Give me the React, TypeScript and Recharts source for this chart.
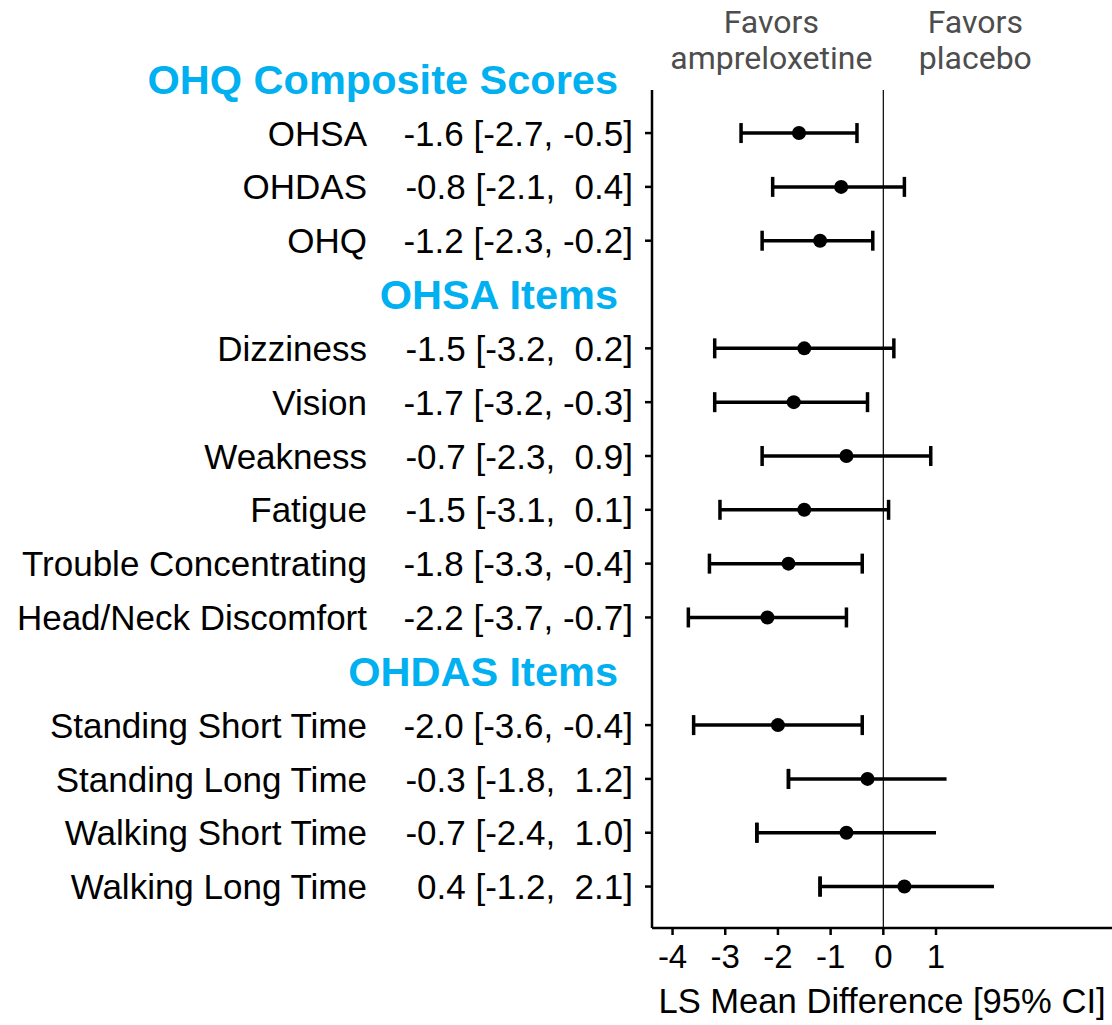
import { ComposedChart, Scatter, ErrorBar, XAxis, YAxis, ReferenceLine } from "recharts";

const labels = [
    "OHSA", "OHDAS", "OHQ",
    "Dizziness", "Vision", "Weakness", "Fatigue", "Trouble Concentrating", "Head/Neck Discomfort",
    "Standing Short Time", "Standing Long Time", "Walking Short Time", "Walking Long Time",
];
const estimates = [-1.6, -0.8, -1.2, -1.5, -1.7, -0.7, -1.5, -1.8, -2.2, -2.0, -0.3, -0.7, 0.4];
const lower = [-2.7, -2.1, -2.3, -3.2, -3.2, -2.3, -3.1, -3.3, -3.7, -3.6, -1.8, -2.4, -1.2];
const upper = [-0.5, 0.4, -0.2, 0.2, -0.3, 0.9, 0.1, -0.4, -0.7, -0.4, 1.2, 1.0, 2.1];
// row index of each item in the plot (headers take rows 0, 4 and 11)
const rowOf = [1, 2, 3, 5, 6, 7, 8, 9, 10, 12, 13, 14, 15];
const headers = [
    { row: 0, text: "OHQ Composite Scores" },
    { row: 4, text: "OHSA Items" },
    { row: 11, text: "OHDAS Items" },
];
const xTicks = [-4, -3, -2, -1, 0, 1];
// upper bounds at or past this value were drawn without an end cap
const CAP_LIMIT = 1;

const W = 1112;
const H = 1025;
const PLOT_LEFT = 652;
const BLUE = "#00B0F0";
const FONT = "'Liberation Sans', Arial, sans-serif";

const fmt = (v: number) => (v < 0 ? v.toFixed(1) : " " + v.toFixed(1));

const rows = labels.map((name, i) => {
    const capped = upper[i] < CAP_LIMIT;
    const lo = estimates[i] - lower[i];
    const hi = upper[i] - estimates[i];
    return {
        name,
        x: estimates[i],
        y: rowOf[i],
        ci: `${estimates[i].toFixed(1)} [${lower[i].toFixed(1)}, ${fmt(upper[i])}]`,
        // capped rows: full interval with caps; open rows: only the lower cap here
        errCap: capped ? [lo, hi] : [lo, -lo],
        // open rows: the whole interval without caps
        errOpen: capped ? [0, 0] : [lo, hi],
    };
});
const yTicks = Array.from({ length: 16 }, (_, i) => i);

function RowTick(props: any) {
    const { y, payload } = props;
    const h = headers.find((d) => d.row === payload.value);
    if (h) {
        return (
            <text x={PLOT_LEFT - 34} y={y} dy="0.36em" textAnchor="end" fill={BLUE}
                fontSize={41.5} fontWeight="bold" fontFamily={FONT}>
                {h.text}
            </text>
        );
    }
    const r = rows.find((d) => d.y === payload.value);
    if (!r) return null;
    return (
        <g>
            <text x={PLOT_LEFT - 285} y={y} dy="0.36em" textAnchor="end" fill="#000" fontSize={35} fontFamily={FONT}>
                {r.name}
            </text>
            <text x={PLOT_LEFT - 19} y={y} dy="0.36em" textAnchor="end" fill="#000" fontSize={35}
                fontFamily={FONT} style={{ whiteSpace: "pre" }}>
                {r.ci}
            </text>
            <line x1={PLOT_LEFT - 7} x2={PLOT_LEFT} y1={y} y2={y} stroke="#000" strokeWidth={2.5} />
        </g>
    );
}

function FavorsLabel(props: any) {
    const { viewBox } = props;
    const x0 = viewBox.x;
    const top = viewBox.y;
    const style = { fontFamily: "Roboto", fontSize: 32, fill: "#4d4d4d" };
    return (
        <g>
            <text x={x0 - 112} y={top - 57} textAnchor="middle" {...style}>Favors</text>
            <text x={x0 - 112} y={top - 21} textAnchor="middle" {...style}>ampreloxetine</text>
            <text x={x0 + 92} y={top - 57} textAnchor="middle" {...style}>Favors</text>
            <text x={x0 + 92} y={top - 21} textAnchor="middle" {...style}>placebo</text>
        </g>
    );
}

export default function App() {
    return (
        <div style={{ position: "absolute", left: 0, top: 0 }}>
            <ComposedChart width={W} height={H} margin={{ top: 90, right: 0, bottom: 0, left: 0 }}
                style={{ fontFamily: FONT }}>
                <XAxis type="number" dataKey="x" domain={[-4.39, 4.34]} allowDataOverflow ticks={xTicks}
                    interval={0} height={97} tickSize={7} tickMargin={10}
                    axisLine={{ stroke: "#000", strokeWidth: 2.5 }}
                    tickLine={{ stroke: "#000", strokeWidth: 2.5 }}
                    tick={{ fill: "#000", fontSize: 33, fontFamily: FONT }}
                    label={{ value: "LS Mean Difference [95% CI]", position: "insideBottom", offset: 12,
                        fill: "#000", fontSize: 34.6, fontFamily: FONT }} />
                <YAxis type="number" dataKey="y" domain={[0.2, 15.77]} allowDataOverflow reversed
                    ticks={yTicks} interval={0} width={PLOT_LEFT} tickLine={false}
                    axisLine={{ stroke: "#000", strokeWidth: 2.5 }} tick={<RowTick />} />
                <ReferenceLine x={0} stroke="#000" strokeWidth={1.2} label={<FavorsLabel />} />
                <Scatter data={rows} isAnimationActive={false}
                    shape={(p: any) => <circle cx={p.cx} cy={p.cy} r={7} fill="#000" />}>
                    <ErrorBar dataKey="errCap" direction="x" width={10} stroke="#000" strokeWidth={3.5} />
                    <ErrorBar dataKey="errOpen" direction="x" width={0} stroke="#000" strokeWidth={3.5} />
                </Scatter>
            </ComposedChart>
        </div>
    );
}
